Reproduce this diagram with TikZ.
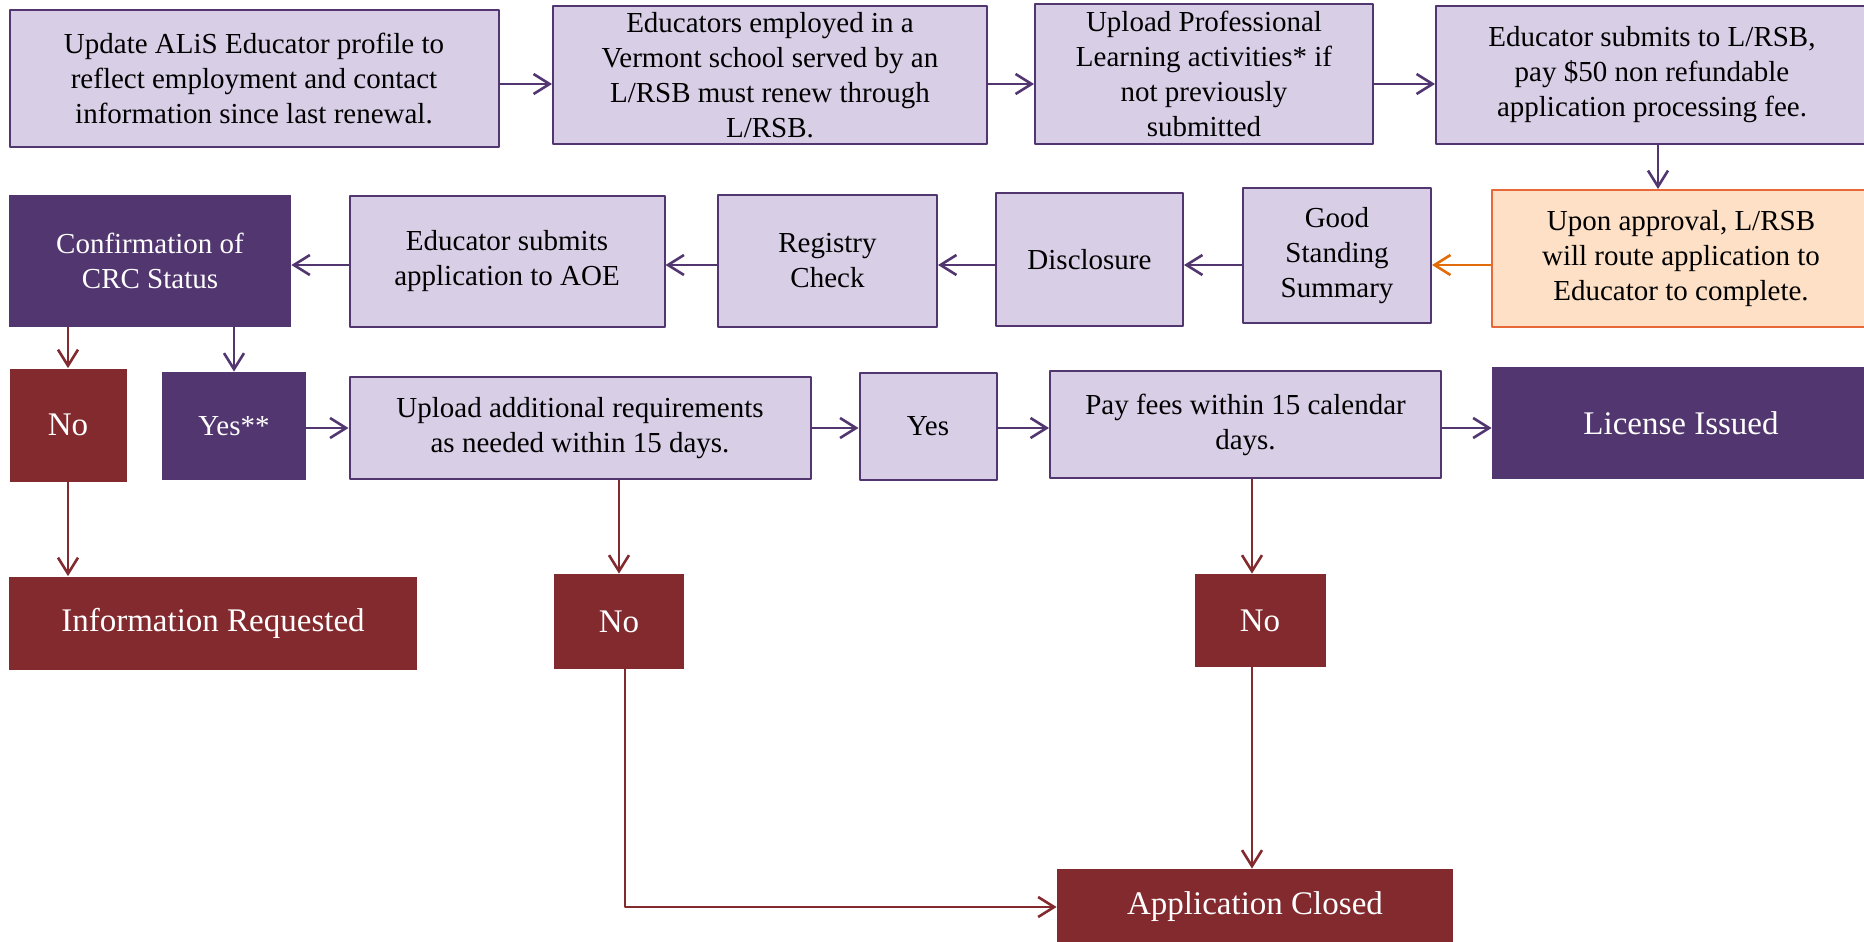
\documentclass[tikz,border=0pt]{standalone}
\usepackage{fontspec}
\setmainfont{Liberation Serif}
\usetikzlibrary{arrows.meta}
\definecolor{lilac}{HTML}{D8CEE6}
\definecolor{plum}{HTML}{52366F}
\definecolor{maroon}{HTML}{832A2F}
\definecolor{peach}{HTML}{FDE0C5}
\definecolor{rust}{HTML}{E8683A}
\definecolor{orng}{HTML}{E36C0A}
\begin{document}
\begin{tikzpicture}[x=0.5pt, y=-0.5pt, line join=round,
  sz/.style 2 args={minimum width=#1*0.5pt, minimum height=#2*0.5pt},
  box/.style={inner sep=0pt, align=center, font=\fontsize{14.5}{17.5}\selectfont},
  lite/.style={box, draw=plum, fill=lilac, line width=1pt},
  dark/.style={box, fill=plum, text=white},
  redbox/.style={box, fill=maroon, text=white, font=\fontsize{16.5}{19}\selectfont},
  orbox/.style={box, draw=rust, fill=peach, line width=1pt},
  arr/.style={-{Straight Barb[length=8pt,width=10pt]}, line width=1.3pt, draw=plum}]
 \useasboundingbox (0,0) rectangle (1864,942);
 % first row
 \node[lite, sz={489}{137}] (upd) at (254,78) {Update ALiS Educator profile to\\reflect employment and contact\\information since last renewal.};
 \node[lite, sz={434}{138}] (emp) at (770,75) {Educators employed in a\\Vermont school served by an\\L/RSB must renew through\\L/RSB.};
 \node[lite, sz={338}{140}] (upl) at (1204,74) {Upload Professional\\Learning activities* if\\not previously\\submitted};
 \node[lite, sz={432}{138}] (sub) at (1652,75) {Educator submits to L/RSB,\\pay \$50 non refundable\\application processing fee.};
 % second row
 \node[dark, sz={282}{132}] (crc) at (150,261) {Confirmation of\\CRC Status};
 \node[lite, sz={315}{131}] (aoe) at (507,261.5) {Educator submits\\application to AOE};
 \node[lite, sz={219}{132}] (reg) at (827.5,261) {Registry\\Check};
 \node[lite, sz={187}{133}] (dis) at (1089.5,259.5) {Disclosure};
 \node[lite, sz={188}{135}] (good) at (1337,255.5) {Good\\Standing\\Summary};
 \node[orbox, sz={378}{137}] (appr) at (1681,258.5) {Upon approval, L/RSB\\will route application to\\Educator to complete.};
 % third row
 \node[redbox, sz={117}{113}] (no1) at (68,425) {No};
 \node[dark, sz={144}{108}] (yes1) at (234,426) {Yes**};
 \node[lite, sz={461}{102}] (addl) at (580,428) {Upload additional requirements\\as needed within 15 days.};
 \node[lite, sz={137}{107}] (yes2) at (928,426.5) {Yes};
 \node[lite, sz={391}{107}] (pay) at (1245.5,424.5) {Pay fees within 15 calendar\\days.};
 \node[dark, sz={378}{112}, font=\fontsize{16.5}{19}\selectfont] (lic) at (1681,423) {License Issued};
 % outcomes
 \node[redbox, sz={408}{93}] (info) at (213,623) {Information Requested};
 \node[redbox, sz={130}{95}] (no2) at (619,621.5) {No};
 \node[redbox, sz={131}{93}] (no3) at (1260,620.5) {No};
 \node[redbox, sz={396}{76}] (closed) at (1255,907) {Application Closed};
 % levels of the row arrows
 \coordinate (r1) at (0,84);
 \coordinate (r2) at (0,265);
 \coordinate (r3) at (0,428);
 % connectors
 \foreach \a/\b in {upd/emp,emp/upl,upl/sub}
  \draw[arr] (\a.east |- r1) -- (\b.west |- r1);
 \draw[arr] ([xshift=3pt]sub.south) -- ([xshift=3pt]sub.south |- appr.north);
 \draw[arr, draw=orng] (appr.west |- r2) -- (good.east |- r2);
 \foreach \a/\b in {good/dis,dis/reg,reg/aoe,aoe/crc}
  \draw[arr] (\a.west |- r2) -- (\b.east |- r2);
 \draw[arr, draw=maroon] (no1 |- crc.south) -- (no1.north);
 \draw[arr] (yes1 |- crc.south) -- (yes1.north);
 \foreach \a/\b in {yes1/addl,addl/yes2,yes2/pay,pay/lic}
  \draw[arr] (\a.east |- r3) -- (\b.west |- r3);
 \draw[arr, draw=maroon] (no1.south) -- (no1.south |- info.north);
 \draw[arr, draw=maroon] (no2 |- addl.south) -- (no2.north);
 \draw[arr, draw=maroon] ([xshift=-4pt]no3 |- pay.south) -- ([xshift=-4pt]no3.north);
 \draw[arr, draw=maroon] ([xshift=3pt]no2.south) |- (closed.west);
 \draw[arr, draw=maroon] ([xshift=-4pt]no3.south) -- ([xshift=-4pt]no3.south |- closed.north);
\end{tikzpicture}
\end{document}
